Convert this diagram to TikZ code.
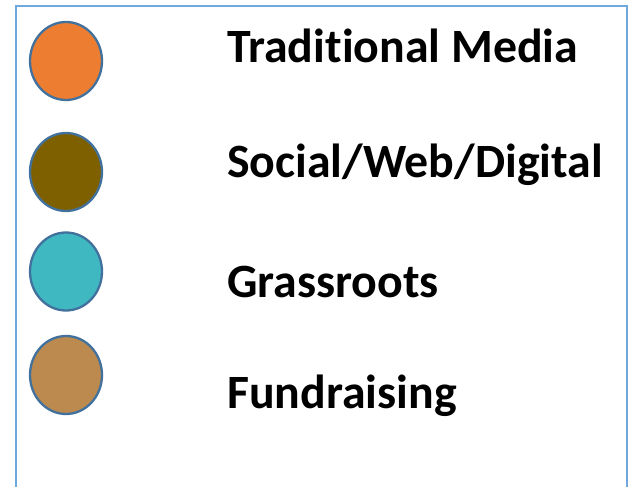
\documentclass[tikz,border=0pt]{standalone}
\usepackage{fontspec}
\setmainfont[Ligatures=CommonOff]{Carlito}
\usetikzlibrary{shapes.geometric}
\definecolor{frameblue}{HTML}{6FA8DC}
\definecolor{ringblue}{HTML}{41719C}
\definecolor{corange}{HTML}{ED7D31}
\definecolor{cbrown}{HTML}{7F6000}
\definecolor{cteal}{HTML}{3FB8C1}
\definecolor{ctan}{HTML}{BC8A4F}
\begin{document}
\begin{tikzpicture}[x=1bp,y=-1bp,
  dot/.style={draw=ringblue,line width=2.3bp,ellipse,minimum width=72bp,minimum height=78bp,inner sep=0pt},
  lbl/.style={anchor=base west,inner sep=0pt,font=\fontsize{48}{50}\selectfont\bfseries}]
\useasboundingbox (0,0) rectangle (635,487);
\coordinate (fbl) at (16,490);
\coordinate (ftl) at (16,6);
\coordinate (ftr) at (627,6);
\coordinate (fbr) at (627,490);
\draw[frameblue,line width=2bp] (fbl) -- (ftl) -- (ftr) -- (fbr);
\node[dot,fill=corange] (c1) at (66,61) {};
\node[dot,fill=cbrown] (c2) at (66,172) {};
\node[dot,fill=cteal] (c3) at (66,271.5) {};
\node[dot,fill=ctan] (c4) at (66,375) {};
\node[lbl] (t1) at (227,62.7) {Traditional Media};
\node[lbl] (t2) at (227,178) {Social/Web/Digital};
\node[lbl] (t3) at (227,297.7) {Grassroots};
\node[lbl] (t4) at (227,408.3) {Fundraising};
\end{tikzpicture}
\end{document}
